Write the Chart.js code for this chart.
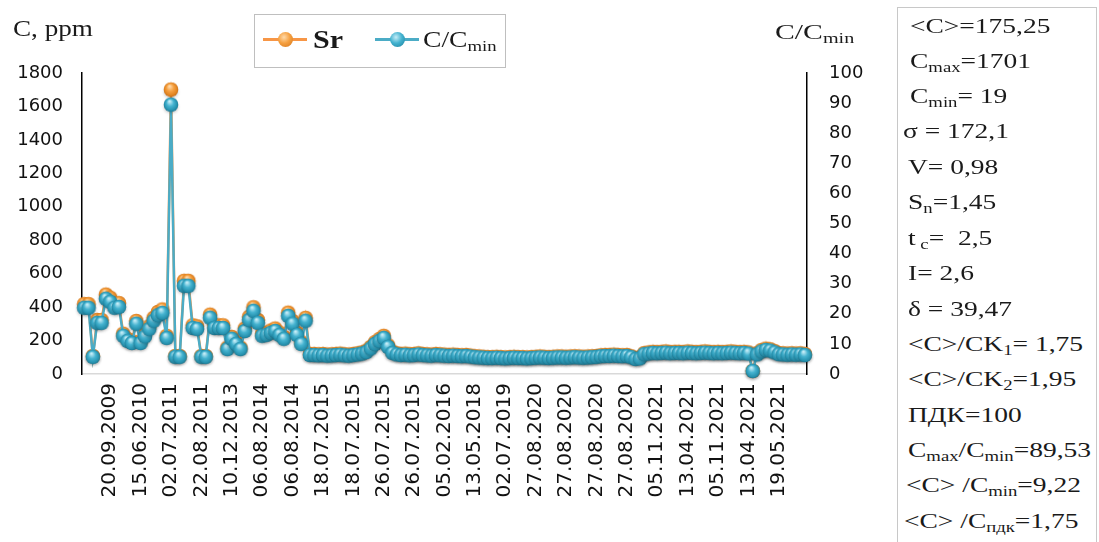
<!DOCTYPE html>
<html>
<head>
<meta charset="utf-8">
<script src="https://cdn.jsdelivr.net/npm/chart.js@4"></script>
<style>
  html, body { margin: 0; padding: 0; background: #fff; }
  body { width: 1099px; height: 542px; position: relative; overflow: hidden; font-family: "Liberation Serif", serif; color: #1a1a1a; }
  #wrap { position: absolute; left: 0; top: 0; width: 890px; height: 542px; }
  .t { position: absolute; white-space: nowrap; transform-origin: 0 0; }
  sub { font-size: 0.68em; vertical-align: -0.28em; line-height: 0; }
  #legend { position: absolute; left: 254px; top: 14px; width: 252px; height: 54px; border: 1px solid #bfbfbf; box-sizing: border-box; }
  .lg-line { position: absolute; height: 3px; top: 23px; width: 44px; }
  .lg-ball { position: absolute; width: 15px; height: 15px; border-radius: 50%; top: 17px; }
  #stats { position: absolute; left: 897px; top: 7px; width: 200px; height: 545px; border: 1px solid #c8c8c8; box-sizing: border-box; }
  #stats div { position: absolute; white-space: nowrap; font-size: 22px; transform: scaleX(1.25); transform-origin: 0 0; }
</style>
</head>
<body>
<div id="wrap"><canvas id="chart" width="890" height="542"></canvas></div>

<div class="t" style="left:13px; top:16px; font-size:23px; transform:scaleX(1.18);">C, ppm</div>
<div class="t" style="left:775px; top:19px; font-size:22px; transform:scaleX(1.35);">C/C<sub>min</sub></div>

<div id="legend">
  <div class="lg-line" style="left:8px; background:#f79646;"></div>
  <div class="lg-ball" style="left:23px; background:radial-gradient(circle at 40% 35%, #ffd9a8 0%, #f5a040 45%, #d3741a 100%);"></div>
  <div class="t" style="left:58px; top:11px; font-size:25px; font-weight:bold; transform:scaleX(1.2);">Sr</div>
  <div class="lg-line" style="left:120px; background:#4bacc6;"></div>
  <div class="lg-ball" style="left:135px; background:radial-gradient(circle at 40% 35%, #c4ecf7 0%, #43b2cf 45%, #1b7f9c 100%);"></div>
  <div class="t" style="left:168px; top:12px; font-size:23px; transform:scaleX(1.2);">C/C<sub>min</sub></div>
</div>

<div id="stats">
  <div style="left:12px; top:5px;">&lt;C&gt;=175,25</div>
  <div style="left:12px; top:40px;">C<sub>max</sub>=1701</div>
  <div style="left:12px; top:75px;">C<sub>min</sub>= 19</div>
  <div style="left:5px; top:110px;">σ = 172,1</div>
  <div style="left:10px; top:146px;">V= 0,98</div>
  <div style="left:10px; top:181px;">S<sub>n</sub>=1,45</div>
  <div style="left:10px; top:217px;">t<sub> c</sub>=&nbsp; 2,5</div>
  <div style="left:10px; top:252px;">I= 2,6</div>
  <div style="left:10px; top:288px;">δ = 39,47</div>
  <div style="left:10px; top:323px;">&lt;C&gt;/CK<sub>1</sub>= 1,75</div>
  <div style="left:10px; top:358px;">&lt;C&gt;/CK<sub>2</sub>=1,95</div>
  <div style="left:10px; top:394px;">ПДК=100</div>
  <div style="left:10px; top:429px;">C<sub>max</sub>/C<sub>min</sub>=89,53</div>
  <div style="left:8px; top:464px;">&lt;C&gt; /C<sub>min</sub>=9,22</div>
  <div style="left:6px; top:500px;">&lt;C&gt; /C<sub>пдк</sub>=1,75</div>
</div>

<script>
// подписи оси X (показаны через каждые 7 точек)
const tickLabels = [
  "20.09.2009", "15.06.2010", "02.07.2011", "22.08.2011", "10.12.2013",
  "06.08.2014", "06.08.2014", "18.07.2015", "18.07.2015", "26.07.2015",
  "26.07.2015", "05.02.2016", "13.05.2018", "02.07.2019", "27.08.2020",
  "27.08.2020", "27.08.2020", "27.08.2020", "05.11.2021", "13.04.2021",
  "05.11.2021", "13.04.2021", "19.05.2021"
];
const labelStep = 7;
const labelStart = 6;

// Sr, ppm
const srValues = [
  418, 418, 108, 323, 323, 475, 456, 418, 424, 241,
  209, 196, 317, 196, 238, 285, 336, 371, 386, 228,
  1701, 108, 108, 557, 557, 291, 285, 108, 108, 355,
  291, 291, 291, 158, 222, 190, 158, 272, 342, 399,
  323, 241, 247, 260, 272, 247, 222, 367, 317, 247,
  190, 336, 120,
  120, 118, 120, 116, 118, 120, 122, 118, 116, 120, 124,
  129, 139, 162, 190, 209, 228, 171, 133, 124,
  120, 122, 118, 120, 124, 120, 118, 116, 120, 118, 116, 114, 116, 114, 112, 114, 110,
  106, 105, 103, 101, 101, 103, 101, 99, 101, 103, 101, 101, 99, 101, 103, 105, 103, 101, 103, 105,
  105, 103, 105, 106, 105, 103, 105, 106, 108,
  112, 114, 114, 116, 114, 112, 114, 106,
  95, 99,
  125, 129, 133, 131, 133, 135, 131, 133, 133, 131, 135, 133, 131, 133, 135, 133, 131, 133, 131, 133,
  135, 133, 131, 133, 129,
  19,
  124, 143, 152, 148, 137,
  125, 124, 122, 124, 122, 124, 120
];

// C/Cmin
const ratioValues = [
  22, 22, 5.7, 17, 17, 25, 24, 22, 22.3, 12.7,
  11, 10.3, 16.7, 10.3, 12.5, 15, 17.7, 19.5, 20.3, 12,
  89.5, 5.7, 5.7, 29.3, 29.3, 15.3, 15, 5.7, 5.7, 18.7,
  15.3, 15.3, 15.3, 8.3, 11.7, 10, 8.3, 14.3, 18, 21,
  17, 12.7, 13, 13.7, 14.3, 13, 11.7, 19.3, 16.7, 13,
  10, 17.7, 6.3,
  6.3, 6.2, 6.3, 6.1, 6.2, 6.3, 6.4, 6.2, 6.1, 6.3, 6.5,
  6.8, 7.3, 8.5, 10, 11, 12, 9, 7, 6.5,
  6.3, 6.4, 6.2, 6.3, 6.5, 6.3, 6.2, 6.1, 6.3, 6.2, 6.1, 6.0, 6.1, 6.0, 5.9, 6.0, 5.8,
  5.6, 5.5, 5.4, 5.3, 5.3, 5.4, 5.3, 5.2, 5.3, 5.4, 5.3, 5.3, 5.2, 5.3, 5.4, 5.5, 5.4, 5.3, 5.4, 5.5,
  5.5, 5.4, 5.5, 5.6, 5.5, 5.4, 5.5, 5.6, 5.7,
  5.9, 6.0, 6.0, 6.1, 6.0, 5.9, 6.0, 5.6,
  5.0, 5.2,
  6.6, 6.8, 7.0, 6.9, 7.0, 7.1, 6.9, 7.0, 7.0, 6.9, 7.1, 7.0, 6.9, 7.0, 7.1, 7.0, 6.9, 7.0, 6.9, 7.0,
  7.1, 7.0, 6.9, 7.0, 6.8,
  1,
  6.5, 7.5, 8, 7.8, 7.2,
  6.6, 6.5, 6.4, 6.5, 6.4, 6.5, 6.3
];

// категории: дата только на каждой 7-й точке
const categories = srValues.map((_, i) =>
  i >= labelStart && (i - labelStart) % labelStep === 0
    ? tickLabels[(i - labelStart) / labelStep] ?? ""
    : ""
);

// объёмный шарик-маркер
function makeBall(c0, c1, c2, c3) {
  const s = document.createElement("canvas");
  s.width = 22;
  s.height = 22;
  const g = s.getContext("2d");
  g.filter = "blur(1.5px)";
  g.fillStyle = "rgba(40,40,40,0.28)";
  g.beginPath();
  g.ellipse(11, 13.5, 7, 6, 0, 0, Math.PI * 2);
  g.fill();
  g.filter = "none";
  const grad = g.createRadialGradient(9.5, 7.5, 0.5, 11, 11, 7.5);
  grad.addColorStop(0, c0);
  grad.addColorStop(0.45, c1);
  grad.addColorStop(0.85, c2);
  grad.addColorStop(1, c3);
  g.fillStyle = grad;
  g.beginPath();
  g.arc(11, 11, 7.3, 0, Math.PI * 2);
  g.fill();
  return s;
}

const tealBall = makeBall("#c8eef8", "#45b3d0", "#2590ad", "#18728c");
const orangeBall = makeBall("#ffdcae", "#f6a142", "#e0821f", "#c0650f");

const tickFont = { family: "DejaVu Sans", size: 18 };

new Chart(document.getElementById("chart"), {
  type: "line",
  data: {
    labels: categories,
    datasets: [
      {
        label: "C/Cmin",
        data: ratioValues,
        yAxisID: "yR",
        borderColor: "#4bacc6",
        borderWidth: 2.5,
        pointStyle: tealBall,
        pointRadius: 7,
        clip: false,
        order: 1,
      },
      {
        label: "Sr",
        data: srValues,
        yAxisID: "y",
        borderColor: "#f79646",
        borderWidth: 2.5,
        pointStyle: orangeBall,
        pointRadius: 7,
        clip: false,
        order: 2,
      },
    ],
  },
  options: {
    responsive: false,
    animation: false,
    layout: { padding: { top: 73, left: 0, right: 0, bottom: 0 } },
    plugins: { legend: { display: false }, tooltip: { enabled: false } },
    scales: {
      x: {
        type: "category",
        offset: true,
        grid: { display: false, drawTicks: false },
        border: { color: "#d9d9d9", width: 1.5 },
        ticks: {
          autoSkip: false,
          maxRotation: 90,
          minRotation: 90,
          padding: 9,
          font: { family: "DejaVu Sans", size: 20 },
          color: "#111",
        },
        afterFit(s) { s.height = 542 - 374; },
      },
      y: {
        position: "left",
        min: 0,
        max: 1800,
        ticks: { stepSize: 200, padding: 19, font: tickFont, color: "#111", callback: (v) => String(v) },
        grid: { display: false, drawTicks: false },
        border: { color: "#000", width: 1.5 },
        afterFit(s) { s.width = 82; },
      },
      yR: {
        position: "right",
        min: 0,
        max: 100,
        ticks: { stepSize: 10, padding: 22, font: tickFont, color: "#111", callback: (v) => String(v) },
        grid: { display: false, drawTicks: false },
        border: { color: "#000", width: 1.5 },
        afterFit(s) { s.width = 890 - 807; },
      },
    },
  },
});
</script>
</body>
</html>
